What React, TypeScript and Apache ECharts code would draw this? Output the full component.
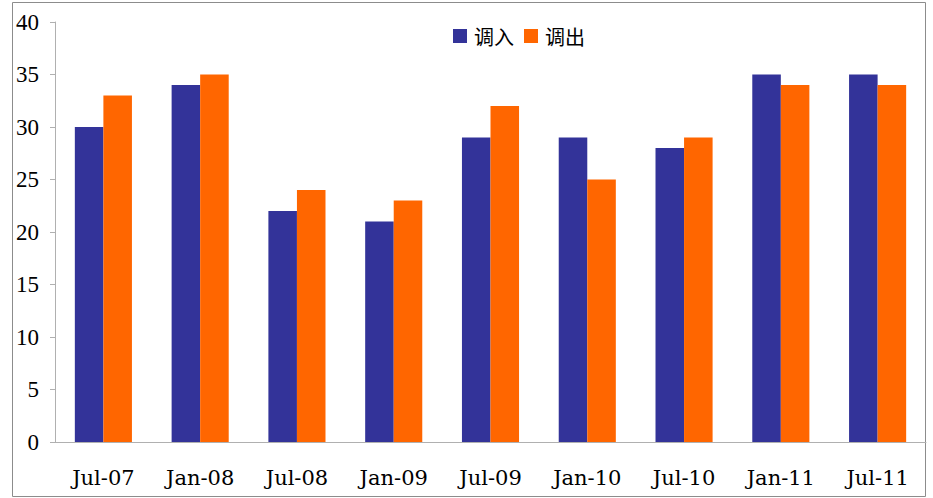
import React, { useEffect, useRef } from "react";
import * as echarts from "echarts";

const categories = ["Jul-07", "Jan-08", "Jul-08", "Jan-09", "Jul-09", "Jan-10", "Jul-10", "Jan-11", "Jul-11"];
const inflow = [30, 34, 22, 21, 29, 29, 28, 35, 35];
const outflow = [33, 35, 24, 23, 32, 25, 29, 34, 34];
const seriesNames = ["调入", "调出"];

const FONT = '"Liberation Serif", "DejaVu Serif", "Noto Sans CJK SC", serif';
const XFONT = '"DejaVu Serif", "Liberation Serif", serif';

export default function App() {
  const ref = useRef<HTMLDivElement>(null);
  useEffect(() => {
    if (!ref.current) return;
    const chart = echarts.init(ref.current, null, { renderer: "svg" });
    chart.setOption({
      animation: false,
      backgroundColor: "#ffffff",
      textStyle: { fontFamily: FONT },
      graphic: [
        {
          type: "rect",
          shape: { x: 12.5, y: 2.5, width: 913, height: 494 },
          style: { fill: "none", stroke: "#8c8c8c", lineWidth: 1 },
          silent: true,
        },
      ],
      legend: {
        top: 21,
        left: 448,
        itemWidth: 14,
        itemHeight: 14,
        itemGap: 10,
        icon: "rect",
        textStyle: { fontFamily: '"Noto Sans CJK SC", sans-serif', fontSize: 20, color: "#000", padding: [0, 0, 0, 2] },
        data: seriesNames,
      },
      grid: { left: 55, right: 7, top: 22, bottom: 56, containLabel: false },
      xAxis: {
        type: "category",
        data: categories,
        axisLine: { lineStyle: { color: "#b0b0b0" } },
        axisTick: { inside: true, length: 5, lineStyle: { color: "#b0b0b0" } },
        axisLabel: { fontFamily: XFONT, fontSize: 21, color: "#000", margin: 25 },
      },
      yAxis: {
        type: "value",
        min: 0,
        max: 40,
        interval: 5,
        axisLine: { show: true, lineStyle: { color: "#b0b0b0" } },
        axisTick: { show: true, length: 5, lineStyle: { color: "#b0b0b0" } },
        splitLine: { show: false },
        axisLabel: { fontFamily: FONT, fontSize: 23, color: "#000", margin: 16 },
      },
      series: [
        {
          name: seriesNames[0],
          type: "bar",
          data: inflow,
          itemStyle: { color: "#333399" },
          barGap: "0%",
          barCategoryGap: "41%",
        },
        {
          name: seriesNames[1],
          type: "bar",
          data: outflow,
          itemStyle: { color: "#FF6600" },
          barGap: "0%",
          barCategoryGap: "41%",
        },
      ],
    });
    return () => chart.dispose();
  }, []);
  return (
    <div
      ref={ref}
      style={{ position: "absolute", left: 0, top: 0, width: 933, height: 498 }}
    />
  );
}
